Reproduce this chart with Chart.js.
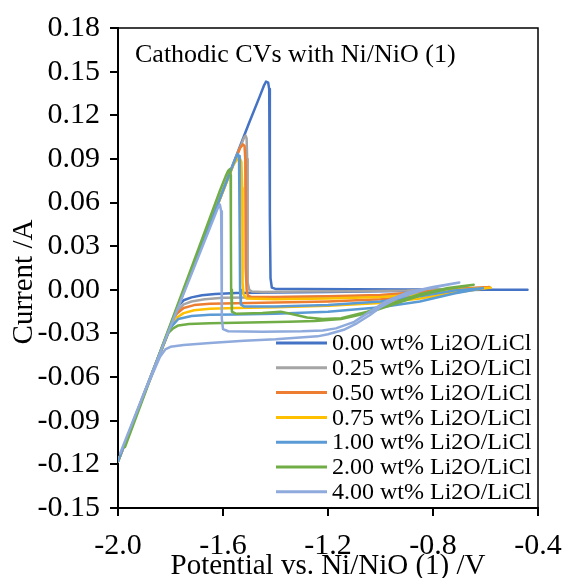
<!DOCTYPE html>
<html>
<head>
<meta charset="utf-8">
<title>Cathodic CVs with Ni/NiO (1)</title>
<script src="https://cdn.jsdelivr.net/npm/chart.js@4/dist/chart.umd.min.js"></script>
<style>
  html, body { margin: 0; padding: 0; background: #ffffff; }
  #wrap { width: 565px; height: 578px; }
</style>
</head>
<body>
<div id="wrap"><canvas id="cv" width="565" height="578"></canvas></div>
<script>
// Cathodic cyclic voltammograms: potential (V vs. Ni/NiO) and current (A).
// Each sweep starts at the anodic end, runs to the negative limit and returns.

const seriesLabels = [
  '0.00 wt% Li2O/LiCl', '0.25 wt% Li2O/LiCl', '0.50 wt% Li2O/LiCl',
  '0.75 wt% Li2O/LiCl', '1.00 wt% Li2O/LiCl', '2.00 wt% Li2O/LiCl',
  '4.00 wt% Li2O/LiCl'
];

const pot000 = [-0.44,-0.60,-0.80,-1.00,-1.20,-1.40,-1.55,-1.63,-1.68,-1.72,-1.75,-1.77,-1.80,-1.90,-2.00,
  -1.90,-1.70,-1.50,-1.46,-1.445,-1.436,-1.428,-1.424,-1.422,-1.421,-1.419,-1.414,-1.40,-1.30,-1.10,-0.90,-0.70,-0.55,-0.44];
const cur000 = [0.0000,0.0000,-0.0005,-0.0010,-0.0015,-0.0018,-0.0022,-0.0028,-0.0038,-0.0052,-0.0072,-0.0110,-0.0248,-0.0714,-0.1180,
  -0.0710,0.0220,0.1150,0.1330,0.1400,0.1432,0.1425,0.1380,0.1100,0.0500,0.0080,0.0015,0.0006,0.0005,0.0004,0.0003,0.0002,0.0001,0.0000];

const pot025 = [-0.60,-0.70,-0.80,-0.95,-1.10,-1.30,-1.50,-1.60,-1.67,-1.72,-1.75,-1.77,-1.80,-1.90,-2.00,
  -1.90,-1.70,-1.55,-1.53,-1.52,-1.514,-1.510,-1.508,-1.507,-1.505,-1.500,-1.49,-1.45,-1.30,-1.10,-0.90,-0.75,-0.60];
const cur025 = [0.0015,0.0000,-0.0020,-0.0035,-0.0045,-0.0050,-0.0052,-0.0055,-0.0065,-0.0080,-0.0100,-0.0140,-0.0250,-0.0714,-0.1180,
  -0.0710,0.0220,0.0915,0.1000,0.1045,0.1060,0.1040,0.0900,0.0300,0.0050,0.0000,-0.0012,-0.0015,-0.0012,-0.0010,-0.0005,0.0005,0.0015];

const pot050 = [-0.585,-0.70,-0.85,-1.00,-1.20,-1.40,-1.55,-1.65,-1.71,-1.75,-1.78,-1.80,-1.90,-2.00,
  -1.90,-1.70,-1.56,-1.535,-1.524,-1.518,-1.515,-1.514,-1.513,-1.510,-1.505,-1.49,-1.40,-1.20,-1.00,-0.85,-0.70,-0.585];
const cur050 = [0.0020,-0.0005,-0.0040,-0.0065,-0.0080,-0.0088,-0.0092,-0.0095,-0.0105,-0.0125,-0.0170,-0.0250,-0.0714,-0.1180,
  -0.0712,0.0215,0.0865,0.0975,0.1000,0.0990,0.0900,0.0600,0.0150,0.0000,-0.0040,-0.0050,-0.0050,-0.0045,-0.0035,-0.0015,0.0008,0.0020];

const pot075 = [-0.58,-0.70,-0.85,-1.00,-1.20,-1.40,-1.55,-1.65,-1.71,-1.75,-1.78,-1.80,-1.90,-2.00,
  -1.90,-1.70,-1.56,-1.545,-1.536,-1.530,-1.527,-1.526,-1.525,-1.522,-1.51,-1.40,-1.20,-1.00,-0.85,-0.70,-0.58];
const cur075 = [0.0015,-0.0015,-0.0060,-0.0090,-0.0110,-0.0120,-0.0125,-0.0130,-0.0140,-0.0160,-0.0195,-0.0260,-0.0714,-0.1180,
  -0.0712,0.0218,0.0860,0.0900,0.0905,0.0880,0.0700,0.0300,0.0050,-0.0030,-0.0060,-0.0065,-0.0060,-0.0050,-0.0030,0.0000,0.0015];

const pot100 = [-0.61,-0.72,-0.85,-1.00,-1.20,-1.40,-1.55,-1.65,-1.72,-1.77,-1.80,-1.85,-1.90,-2.00,
  -1.90,-1.70,-1.57,-1.552,-1.544,-1.539,-1.537,-1.536,-1.535,-1.532,-1.52,-1.40,-1.20,-1.00,-0.85,-0.72,-0.61];
const cur100 = [0.0010,-0.0025,-0.0080,-0.0120,-0.0150,-0.0165,-0.0170,-0.0172,-0.0180,-0.0200,-0.0260,-0.0481,-0.0714,-0.1180,
  -0.0712,0.0218,0.0820,0.0905,0.0935,0.0920,0.0800,0.0400,0.0000,-0.0100,-0.0115,-0.0115,-0.0105,-0.0080,-0.0045,-0.0005,0.0010];

const pot200 = [-0.645,-0.75,-0.85,-0.95,-1.05,-1.15,-1.25,-1.35,-1.50,-1.65,-1.73,-1.77,-1.79,-1.81,-1.85,-1.90,-1.973,
  -1.90,-1.70,-1.61,-1.59,-1.580,-1.574,-1.571,-1.570,-1.569,-1.566,-1.55,-1.45,-1.38,-1.33,-1.28,-1.22,-1.15,-1.05,-0.95,-0.85,-0.75,-0.645];
const cur200 = [0.0035,0.0005,-0.0040,-0.0100,-0.0160,-0.0200,-0.0215,-0.0220,-0.0225,-0.0230,-0.0235,-0.0245,-0.0265,-0.0300,-0.0482,-0.0725,-0.1080,
  -0.0720,0.0250,0.0690,0.0780,0.0820,0.0830,0.0790,0.0400,0.0000,-0.0150,-0.0165,-0.0160,-0.0150,-0.0170,-0.0190,-0.0200,-0.0195,-0.0150,-0.0090,-0.0030,0.0010,0.0035];

const pot400 = [-0.70,-0.76,-0.82,-0.88,-0.94,-1.00,-1.04,-1.09,-1.14,-1.20,-1.24,-1.32,-1.40,-1.52,-1.65,-1.75,-1.80,-1.82,-1.84,-1.90,-1.992,
  -1.90,-1.70,-1.63,-1.618,-1.612,-1.607,-1.605,-1.604,-1.600,-1.58,-1.45,-1.30,-1.22,-1.17,-1.10,-1.04,-0.98,-0.90,-0.80,-0.70];
const cur400 = [0.0050,0.0030,0.0008,-0.0025,-0.0060,-0.0120,-0.0173,-0.0230,-0.0275,-0.0305,-0.0320,-0.0330,-0.0340,-0.0350,-0.0366,-0.0380,-0.0392,-0.0410,-0.0460,-0.0709,-0.1125,
  -0.0705,0.0200,0.0515,0.0570,0.0586,0.0540,0.0200,-0.0200,-0.0270,-0.0285,-0.0288,-0.0285,-0.0280,-0.0265,-0.0220,-0.0150,-0.0080,-0.0020,0.0020,0.0050];

const xTicks = [-2.0, -1.6, -1.2, -0.8, -0.4];
const yTicks = [-0.15, -0.12, -0.09, -0.06, -0.03, 0.00, 0.03, 0.06, 0.09, 0.12, 0.15, 0.18];

const potentials = [pot000, pot025, pot050, pot075, pot100, pot200, pot400];
const currents   = [cur000, cur025, cur050, cur075, cur100, cur200, cur400];
const lineColors = ['#4472C4', '#A5A5A5', '#ED7D31', '#FFC000', '#5B9BD5', '#70AD47', '#8FAADC'];

const SERIF = '"Liberation Serif", "Times New Roman", serif';

const datasets = seriesLabels.map((label, i) => ({
  label,
  data: potentials[i].map((v, k) => ({ x: v, y: currents[i][k] })),
  borderColor: lineColors[i],
  backgroundColor: lineColors[i],
  borderWidth: 2.5,
  showLine: true,
  pointRadius: 0,
  pointHoverRadius: 0,
  tension: 0,
  borderJoinStyle: 'round',
  borderCapStyle: 'round',
  // later concentrations are painted over earlier ones
  order: seriesLabels.length - i
}));

// Plot frame, in-plot heading, value-axis title and the legend block.
const decorations = {
  id: 'decorations',
  afterDraw(chart) {
    const { ctx, chartArea: a } = chart;
    ctx.save();

    ctx.strokeStyle = '#000';
    ctx.lineWidth = 1.5;
    ctx.beginPath();
    ctx.moveTo(a.left, a.top);
    ctx.lineTo(a.right, a.top);
    ctx.lineTo(a.right, a.bottom);
    ctx.stroke();

    ctx.fillStyle = '#000';
    ctx.font = '26px ' + SERIF;
    ctx.textAlign = 'left';
    ctx.textBaseline = 'middle';
    ctx.fillText('Cathodic CVs with Ni/NiO (1)', a.left + 17, a.top + 27);

    ctx.save();
    ctx.translate(24, 282);
    ctx.rotate(-Math.PI / 2);
    ctx.font = '29px ' + SERIF;
    ctx.textAlign = 'center';
    ctx.textBaseline = 'middle';
    ctx.fillText('Current /A', 0, 0);
    ctx.restore();

    const rowH = 24.8;
    const firstRow = a.bottom - 165;
    const lineX0 = a.right - 262;
    const lineX1 = a.right - 211;
    ctx.font = '24px ' + SERIF;
    ctx.textAlign = 'left';
    ctx.textBaseline = 'middle';
    seriesLabels.forEach((label, i) => {
      const y = firstRow + i * rowH;
      ctx.strokeStyle = lineColors[i];
      ctx.lineWidth = 3;
      ctx.beginPath();
      ctx.moveTo(lineX0, y);
      ctx.lineTo(lineX1, y);
      ctx.stroke();
      ctx.fillStyle = '#000';
      ctx.fillText(label, lineX1 + 5, y + 1);
    });

    ctx.restore();
  }
};

new Chart(document.getElementById('cv'), {
  type: 'scatter',
  data: { datasets },
  options: {
    responsive: false,
    animation: false,
    devicePixelRatio: 1,
    layout: { padding: { top: 23, right: 27, left: 0, bottom: 0 } },
    plugins: {
      legend: { display: false },
      tooltip: { enabled: false },
      title: { display: false }
    },
    scales: {
      x: {
        type: 'linear',
        min: -2.0,
        max: -0.4,
        afterBuildTicks: (scale) => { scale.ticks = xTicks.map(v => ({ value: v })); },
        afterFit: (scale) => {
          scale.height = 70;
          // the end labels may hang past the plot edges
          scale.paddingLeft = 0;
          scale.paddingRight = 0;
        },
        grid: { drawOnChartArea: false, drawTicks: true, tickLength: 8, color: '#000', lineWidth: 2 },
        border: { display: true, color: '#000', width: 2 },
        ticks: {
          color: '#000',
          padding: 12,
          maxRotation: 0,
          autoSkip: false,
          font: { family: SERIF, size: 30 },
          callback: (v) => Number(v).toFixed(1)
        },
        title: {
          display: true,
          text: 'Potential vs. Ni/NiO (1) /V',
          color: '#000',
          font: { family: SERIF, size: 29, lineHeight: 1 },
          padding: { top: 0, bottom: -3 }
        }
      },
      y: {
        type: 'linear',
        min: -0.15,
        max: 0.18,
        afterBuildTicks: (scale) => { scale.ticks = yTicks.map(v => ({ value: v })); },
        afterFit: (scale) => { scale.width = 118; },
        grid: { drawOnChartArea: false, drawTicks: true, tickLength: 8, color: '#000', lineWidth: 2 },
        border: { display: true, color: '#000', width: 2 },
        ticks: {
          color: '#000',
          padding: 10,
          autoSkip: false,
          font: { family: SERIF, size: 30 },
          callback: (v) => Number(v).toFixed(2)
        }
      }
    }
  },
  plugins: [decorations]
});
</script>
</body>
</html>
